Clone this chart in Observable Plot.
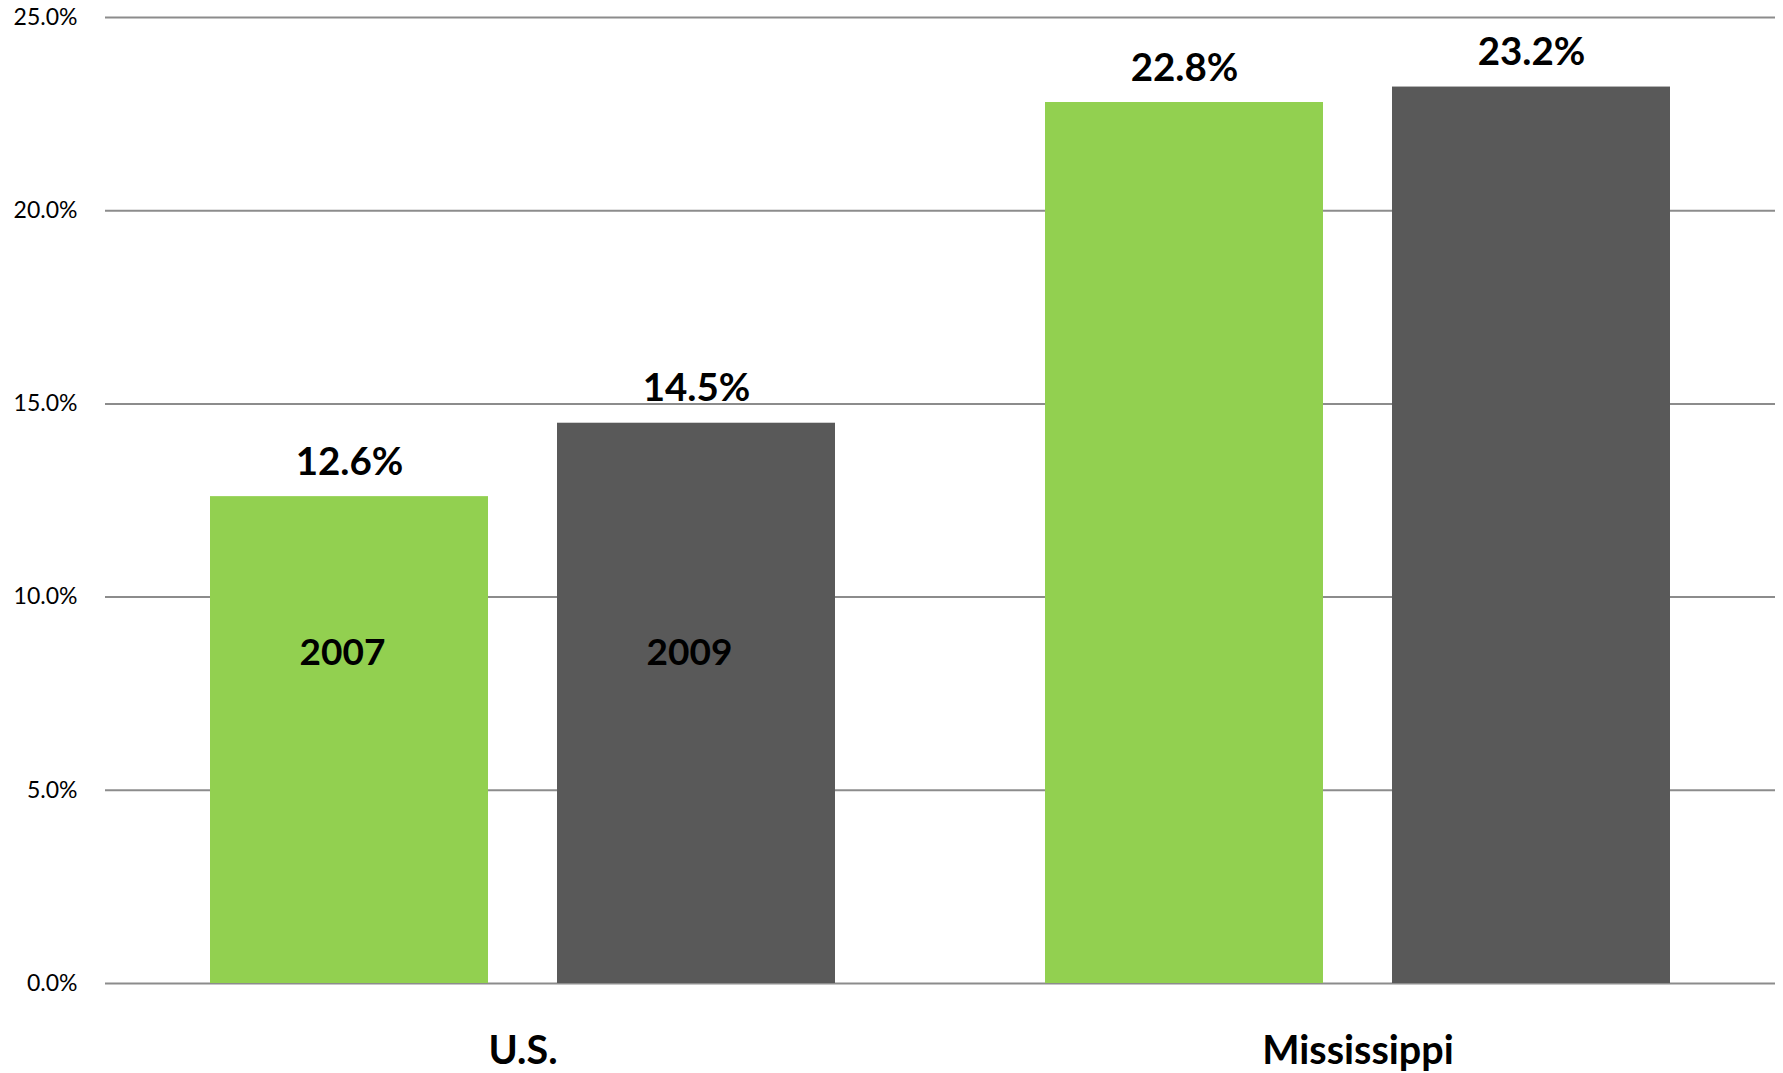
<!DOCTYPE html>
<html>
<head>
<meta charset="utf-8">
<script src="https://cdn.jsdelivr.net/npm/d3@7"></script>
<script src="https://cdn.jsdelivr.net/npm/@observablehq/plot@0.6"></script>
<style>
  html, body { margin: 0; padding: 0; background: #fff; }
  #chart svg { display: block; }
</style>
</head>
<body>
<div id="chart"></div>
<script>
const groups = ["U.S.", "Mississippi"];
const years = ["2007", "2009"];
const usValues = [12.6, 14.5];
const msValues = [22.8, 23.2];
const yTicks = [0, 5, 10, 15, 20, 25];
const yearColors = ["#92D050", "#595959"];

const seriesByGroup = {"U.S.": usValues, "Mississippi": msValues};
const rows = groups.flatMap(g => years.map((y, i) => ({group: g, year: y, value: seriesByGroup[g][i]})));
const yearLabels = years.map(y => ({group: groups[0], year: y}));

const font = "Lato, 'Open Sans', sans-serif";

const chart = Plot.plot({
  width: 1783,
  height: 1073,
  marginTop: 17,
  marginBottom: 90,
  marginLeft: 104,
  marginRight: 8,
  style: {fontFamily: font, background: "#fff", color: "#000"},
  fx: {domain: groups, padding: 0, label: null},
  x: {domain: years, paddingInner: 0.198, paddingOuter: 0.2994, axis: null},
  y: {domain: [0, 25], label: null, axis: null},
  color: {domain: years, range: yearColors},
  marks: [
    Plot.ruleY(yTicks, {stroke: "#8c8c8c", strokeWidth: 2}),
    Plot.barY(rows, {fx: "group", x: "year", y: "value", fill: "year"}),
    Plot.text(rows, {
      fx: "group", x: "year", y: "value",
      text: d => d.value.toFixed(1) + "%",
      lineAnchor: "bottom", dy: -22,
      fontSize: 38.5, fontWeight: "bold", fill: "#000"
    }),
    Plot.text(yearLabels, {
      fx: "group", x: "year", frameAnchor: "bottom",
      text: "year", lineAnchor: "bottom", dy: -319, dx: -7,
      fontSize: 37, fontWeight: "bold", fill: "#000"
    }),
    Plot.axisY({
      ticks: yTicks, tickSize: 0, tickPadding: 28,
      tickFormat: d => d.toFixed(1) + "%",
      fontSize: 23, label: null
    }),
    Plot.axisFx({
      anchor: "bottom", tickSize: 0, tickPadding: 52,
      fontSize: 39.5, fontWeight: "bold", label: null
    })
  ]
});
document.getElementById("chart").appendChild(chart);
</script>
</body>
</html>
